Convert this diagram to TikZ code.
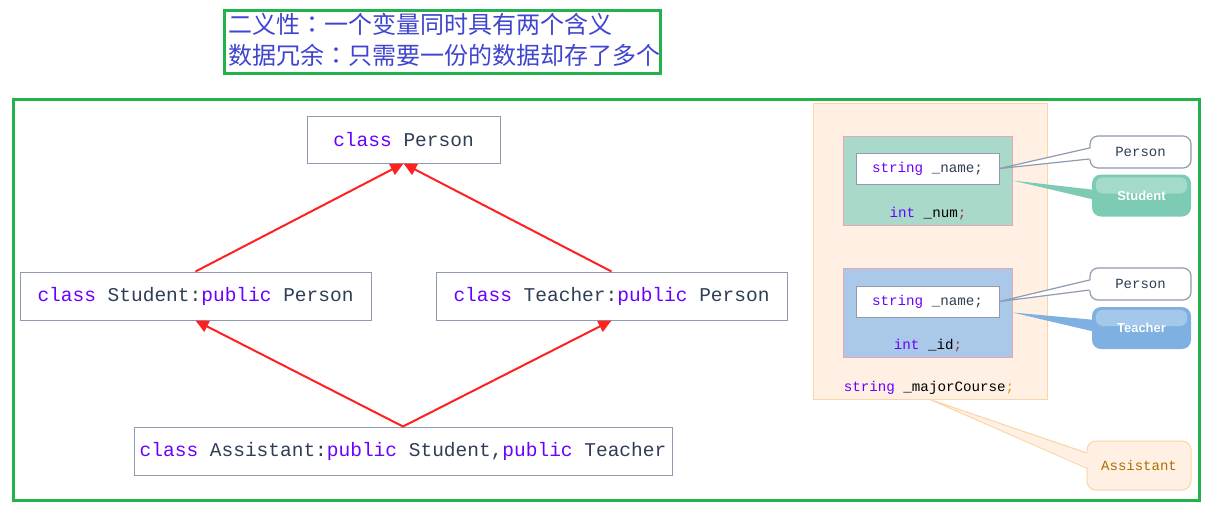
\documentclass[tikz,border=0pt]{standalone}
\usepackage{fontspec}
\setmainfont{Liberation Sans}
\newfontfamily\codefont{Liberation Mono}
\newfontfamily\cjk{Noto Sans CJK SC}
\newfontfamily\cjktc{Noto Sans CJK TC}
\usetikzlibrary{arrows.meta,calc}
\definecolor{grn}{HTML}{22B14C}
\definecolor{cnblue}{HTML}{4045CF}
\definecolor{kwc}{HTML}{6A00FF}
\definecolor{dark}{HTML}{2F3E55}
\definecolor{bgray}{HTML}{8E9BB0}
\definecolor{arrred}{HTML}{FF2020}
\definecolor{peach}{HTML}{FFF0E3}
\definecolor{peachline}{HTML}{FBD5A5}
\definecolor{mint}{HTML}{A9D9C9}
\definecolor{sky}{HTML}{AAC8E8}
\definecolor{pinkline}{HTML}{E8A6B5}
\definecolor{stgreen}{HTML}{7DCBB5}
\definecolor{tcblue}{HTML}{7EB1E1}
\definecolor{semired}{HTML}{9B3A4A}
\definecolor{semiorg}{HTML}{E09A20}
\definecolor{asstxt}{HTML}{A87000}
\newcommand{\kw}[1]{\textcolor{kwc}{#1}}
\newcommand{\ccolon}{{\cjktc ：}}
\tikzset{
  frame/.style={draw=grn, line width=3pt},
  clsbox/.style={draw=bgray, fill=white, line width=1pt, inner sep=0pt,
    font=\codefont\fontsize{19.5}{22}\selectfont, text=dark},
  inherit/.style={draw=arrred, line width=2pt, -{Triangle[length=13pt,width=12pt]}},
  member/.style={inner sep=0pt, font=\codefont\fontsize{14.2}{16}\selectfont, text=black},
  namebox/.style={member, draw=bgray, fill=white, line width=1pt, minimum width=143, minimum height=31, text=dark},
  pbox/.style={rounded corners=8pt, draw=bgray, fill=white, line width=1.2pt, minimum width=101, minimum height=32,
    inner sep=0pt, font=\codefont\fontsize{14}{16}\selectfont, text=dark},
  gbox/.style={rounded corners=9pt, minimum width=99, minimum height=42, inner sep=0pt,
    font=\bfseries\fontsize{13}{15}\selectfont, text=white},
  cnline/.style={anchor=west, inner sep=0pt, text=cnblue, font=\cjk\fontsize{24}{28}\selectfont}
}
\begin{document}
\begin{tikzpicture}[x=1pt,y=-1pt]
\useasboundingbox (0,0) rectangle (1208,507);
\fill[white] (0,0) rectangle (1208,507);

% top note
\draw[frame] (224,10) rectangle (660,73);
\node[cnline] (l1) at (228,24) {二义性\ccolon 一个变量同时具有两个含义};
\node[cnline] (l2) at (228,55) {数据冗余\ccolon 只需要一份的数据却存了多个};

% main frame
\draw[frame] (13,99) rectangle (1199,500);

% class boxes
\node[clsbox, minimum width=193, minimum height=47] (person) at (403.5,139.5) {\kw{class} Person};
\node[clsbox, minimum width=351, minimum height=48] (student) at (195.5,296) {\kw{class} Student:\kw{public} Person};
\node[clsbox, minimum width=351, minimum height=48] (teacher) at (611.5,296) {\kw{class} Teacher:\kw{public} Person};
\node[clsbox, minimum width=538, minimum height=48] (assistant) at (403,451) {\kw{class} Assistant:\kw{public} Student,\kw{public} Teacher};

\draw[inherit] (student.north) -- (person.south);
\draw[inherit] (teacher.north) -- (person.south);
\draw[inherit] (assistant.north) -- (student.south);
\draw[inherit] (assistant.north) -- (teacher.south);

% memory layout
\node[draw=peachline, fill=peach, line width=1pt, minimum width=234, minimum height=296, inner sep=0pt] (mem) at (930,251) {};
\node[draw=pinkline, fill=mint, line width=1pt, minimum width=169, minimum height=89, inner sep=0pt] (sg) at (927.5,180.5) {};
\node[namebox] (n1) at (927.5,168.5) {\kw{string} \_name;};
\node[member] (num) at (928,214) {\kw{int} \_num\textcolor{semired}{;}};
\node[draw=pinkline, fill=sky, line width=1pt, minimum width=169, minimum height=89, inner sep=0pt] (tg) at (927.5,312.5) {};
\node[namebox] (n2) at (927.5,301.5) {\kw{string} \_name;};
\node[member] (id) at (928,346) {\kw{int} \_id\textcolor{semired}{;}};
\node[member] (mc) at (929,388) {\kw{string} \_majorCourse\textcolor{semiorg}{;}};

% callouts
\node[pbox] (p1) at (1140.5,152) {Person};
\fill[white] (n1.east) -- ($(p1.west)+(3,-4)$) -- ($(p1.west)+(3,7)$) -- cycle;
\draw[bgray, line width=1.2pt] ($(p1.west)+(0,-4)$) -- (n1.east) -- ($(p1.west)+(0,7)$);

\node[gbox, fill=stgreen] (sc) at (1141.5,195.5) {Student};
\fill[stgreen] (sg.east) -- ($(sc.west)+(4,-5.5)$) -- ($(sc.west)+(4,4.5)$) -- cycle;
\fill[white, opacity=0.3, rounded corners=7pt] ($(sc.north west)+(4,3)$) rectangle ($(sc.east)+(-4,-2)$);

\node[pbox] (p2) at (1140.5,284) {Person};
\fill[white] (n2.east) -- ($(p2.west)+(3,-4)$) -- ($(p2.west)+(3,6)$) -- cycle;
\draw[bgray, line width=1.2pt] ($(p2.west)+(0,-4)$) -- (n2.east) -- ($(p2.west)+(0,6)$);

\node[gbox, fill=tcblue] (tc) at (1141.5,328) {Teacher};
\fill[tcblue] (tg.east) -- ($(tc.west)+(4,-8)$) -- ($(tc.west)+(4,4)$) -- cycle;
\fill[white, opacity=0.3, rounded corners=7pt] ($(tc.north west)+(4,3)$) rectangle ($(tc.east)+(-4,-2)$);

\node[rounded corners=9pt, draw=peachline, fill=peach, line width=1pt, minimum width=104, minimum height=49, inner sep=0pt,
  font=\codefont\fontsize{14}{16}\selectfont, text=asstxt] (ac) at (1139,465.5) {Assistant};
\fill[peach] (mem.south) -- ($(ac.west)+(3,-12.5)$) -- ($(ac.west)+(3,2.5)$) -- cycle;
\draw[peachline, line width=1pt] ($(ac.west)+(0,-12.5)$) -- (mem.south) -- ($(ac.west)+(0,2.5)$);
\end{tikzpicture}
\end{document}
